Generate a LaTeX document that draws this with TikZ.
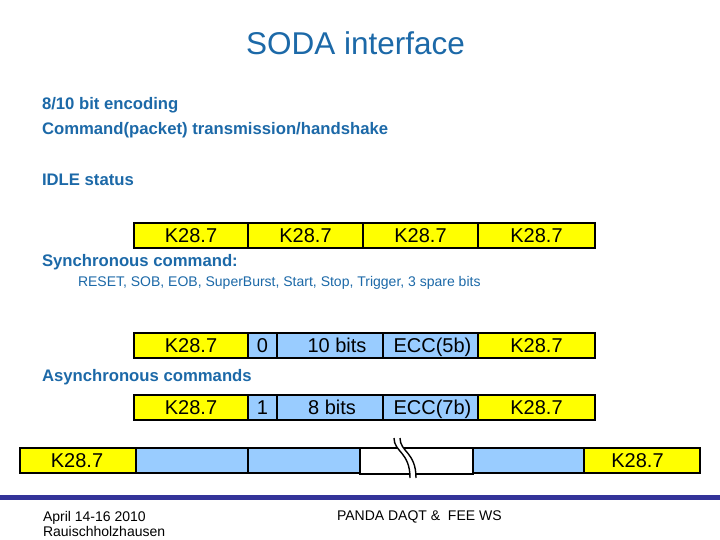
\documentclass[tikz,border=0pt]{standalone}
\usepackage{fontspec}
\setmainfont{Liberation Sans}
\definecolor{txtblue}{RGB}{28,105,168}
\definecolor{cellblue}{RGB}{153,204,255}
\definecolor{cellyellow}{RGB}{255,255,0}
\definecolor{footblue}{RGB}{51,51,153}
\tikzset{
  cellbase/.style={draw=black, line width=2.5pt, inner sep=0pt, outer sep=0pt,
    text height=14.3pt, text depth=0pt, font=\fontsize{20}{24}\selectfont},
  kcell/.style={cellbase, fill=cellyellow},
  bcell/.style={cellbase, fill=cellblue},
  wcell/.style={cellbase, fill=white},
  lbl/.style={anchor=base west, inner sep=0pt, outer sep=0pt, text=txtblue},
  headlbl/.style={lbl, font=\bfseries\fontsize{16.7}{20}\selectfont},
  footlbl/.style={anchor=base west, inner sep=0pt, outer sep=0pt, text=black,
    font=\fontsize{14}{17}\selectfont}
}
\newcommand\mkcell[7]{%
  % style, name, x1, x2, y1, y2, text
  \node[#1, minimum width={(#4-#3)*1pt}, minimum height={(#6-#5)*1pt}]
    (#2) at ({(#3+#4)/2},{(#5+#6)/2}) {#7};}
\begin{document}
\begin{tikzpicture}[x=1pt,y=-1pt]
\useasboundingbox (0,0) rectangle (720,540);
\fill[white] (0,0) rectangle (720,540);

% title
\node[anchor=base, inner sep=0pt, text=txtblue, font=\fontsize{31.5}{36}\selectfont]
  (title) at (355.5,55) {SODA interface};

% intro texts
\node[headlbl] (enc) at (42,110) {8/10 bit encoding};
\node[headlbl] (cmd) at (42,135) {Command(packet) transmission/handshake};
\node[headlbl] (idle) at (42,186) {IDLE status};

% IDLE row
\mkcell{kcell}{i1}{134}{248}{223}{248}{K28.7}
\mkcell{kcell}{i2}{248}{363}{223}{248}{K28.7}
\mkcell{kcell}{i3}{363}{478}{223}{248}{K28.7}
\mkcell{kcell}{i4}{478}{595}{223}{248}{K28.7}

\node[headlbl] (sync) at (42,266) {Synchronous command:};
\node[lbl, font=\fontsize{14}{16}\selectfont] (synclist) at (78,286)
  {RESET, SOB, EOB, SuperBurst, Start, Stop, Trigger, 3 spare bits};

% async row 1
\mkcell{kcell}{a1}{134}{248}{333}{358}{K28.7}
\mkcell{bcell}{a2}{248}{277}{333}{358}{0}
\mkcell{bcell}{a3}{277}{383}{333}{358}{\hspace*{14pt}10 bits}
\mkcell{bcell}{a4}{383}{478}{333}{358}{\hspace*{4pt}ECC(5b)}
\mkcell{kcell}{a5}{478}{595}{333}{358}{K28.7}

\node[headlbl] (async) at (42,381) {Asynchronous commands};

% async row 2
\mkcell{kcell}{b1}{134}{248}{395}{420}{K28.7}
\mkcell{bcell}{b2}{248}{277}{395}{420}{1}
\mkcell{bcell}{b3}{277}{383}{395}{420}{\hspace*{4pt}8 bits}
\mkcell{bcell}{b4}{383}{478}{395}{420}{\hspace*{4pt}ECC(7b)}
\mkcell{kcell}{b5}{478}{595}{395}{420}{K28.7}

% bottom stream row
\mkcell{kcell}{s1}{20}{136}{448}{473}{\hspace*{-2pt}K28.7}
\mkcell{bcell}{s2}{136}{248}{448}{473}{}
\mkcell{bcell}{s3}{248}{360}{448}{473}{}
\mkcell{wcell}{s4}{360}{473}{448}{474}{}
\mkcell{bcell}{s5}{473}{584}{448}{473}{}
\mkcell{kcell}{s6}{584}{700}{448}{473}{\hspace*{-9pt}K28.7}

% break mark
\fill[white] (394,438) .. controls (394,452) and (410,452) .. (410,478)
  -- (416,478) .. controls (416,452) and (400,452) .. (400,438) -- cycle;
\draw[line width=1.4pt] (394,438) .. controls (394,452) and (410,452) .. (410,478);
\draw[line width=1.4pt] (400,438) .. controls (400,452) and (416,452) .. (416,478);

% footer
\fill[footblue] (0,494.5) rectangle (720,499.5);
\node[footlbl] (date) at (43,521) {April 14-16 2010};
\node[footlbl] (place) at (43,536.5) {Rauischholzhausen};
\node[footlbl] (ws) at (337,520) {PANDA DAQT \&\ \ FEE WS};
\end{tikzpicture}
\end{document}
